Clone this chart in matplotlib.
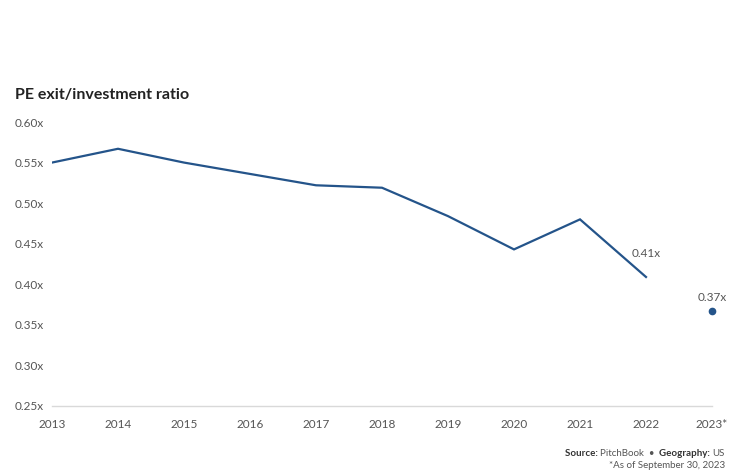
import numpy as np
import matplotlib.pyplot as plt

years = ["2013", "2014", "2015", "2016", "2017", "2018", "2019", "2020", "2021", "2022", "2023*"]
ratio = [0.550, 0.567, 0.550, 0.536, 0.522, 0.519, 0.484, 0.443, 0.480, 0.409]
ratio_2023 = 0.367
yticks = [0.25, 0.30, 0.35, 0.40, 0.45, 0.50, 0.55, 0.60]

plt.rcParams['font.family'] = ['Liberation Sans Narrow', 'Lato', 'DejaVu Sans']
blue = "#24548a"
grey = "#555555"

fig = plt.figure(figsize=(7.39, 4.70), dpi=100)
ax = fig.add_axes([52/739, 1-406/470, 660/739, 284/470])

x = np.arange(len(years))
ax.plot(x[:len(ratio)], ratio, color=blue, lw=1.6, solid_joinstyle="miter")
ax.plot(x[-1], ratio_2023, "o", color=blue, ms=4.5, clip_on=False)

ax.annotate("0.41x", (x[len(ratio)-1], ratio[-1]), xytext=(0, 13), textcoords="offset points",
            ha="center", va="bottom", fontsize=8.5, color=grey)
ax.annotate("0.37x", (x[-1], ratio_2023), xytext=(0, 6), textcoords="offset points",
            ha="center", va="bottom", fontsize=8.5, color=grey)

ax.set_xlim(0, len(years)-1)
ax.set_ylim(0.25, 0.60)
ax.set_xticks(x)
ax.set_xticklabels(years)
ax.set_yticks(yticks)
ax.set_yticklabels([f"{v:.2f}x" for v in yticks])
for lab in ax.get_yticklabels():
    lab.set_horizontalalignment("left")
ax.tick_params(axis="y", length=0, pad=27, labelsize=8.5, labelcolor=grey)
ax.tick_params(axis="x", length=0, pad=9, labelsize=8.5, labelcolor=grey)

for s in ["top", "right", "left"]:
    ax.spines[s].set_visible(False)
ax.spines["bottom"].set_color("#d9d9d9")
ax.spines["bottom"].set_linewidth(1)

fig.text(15/739, 1-95/470, "PE exit/investment ratio", fontsize=11.5, fontweight="bold",
         color="#222222", va="center", ha="left", family=["Lato", "DejaVu Sans"])

# footer with mixed bold text, built right to left
t1 = fig.text(725/739, 1-453/470, "US", fontsize=7, color=grey, ha="right", va="center")
t2 = ax.annotate("Geography: ", xy=(0, 0.5), xycoords=t1, ha="right", va="center",
                 fontsize=7, fontweight="bold", color="#333333")
t3 = ax.annotate("PitchBook  \u2022  ", xy=(0, 0.5), xycoords=t2, ha="right", va="center",
                 fontsize=7, color=grey)
t4 = ax.annotate("Source: ", xy=(0, 0.5), xycoords=t3, ha="right", va="center",
                 fontsize=7, fontweight="bold", color="#333333")
fig.text(725/739, 1-466/470, "*As of September 30, 2023", fontsize=7, color=grey,
         ha="right", va="center")

fig.savefig("out.png", dpi=100)
